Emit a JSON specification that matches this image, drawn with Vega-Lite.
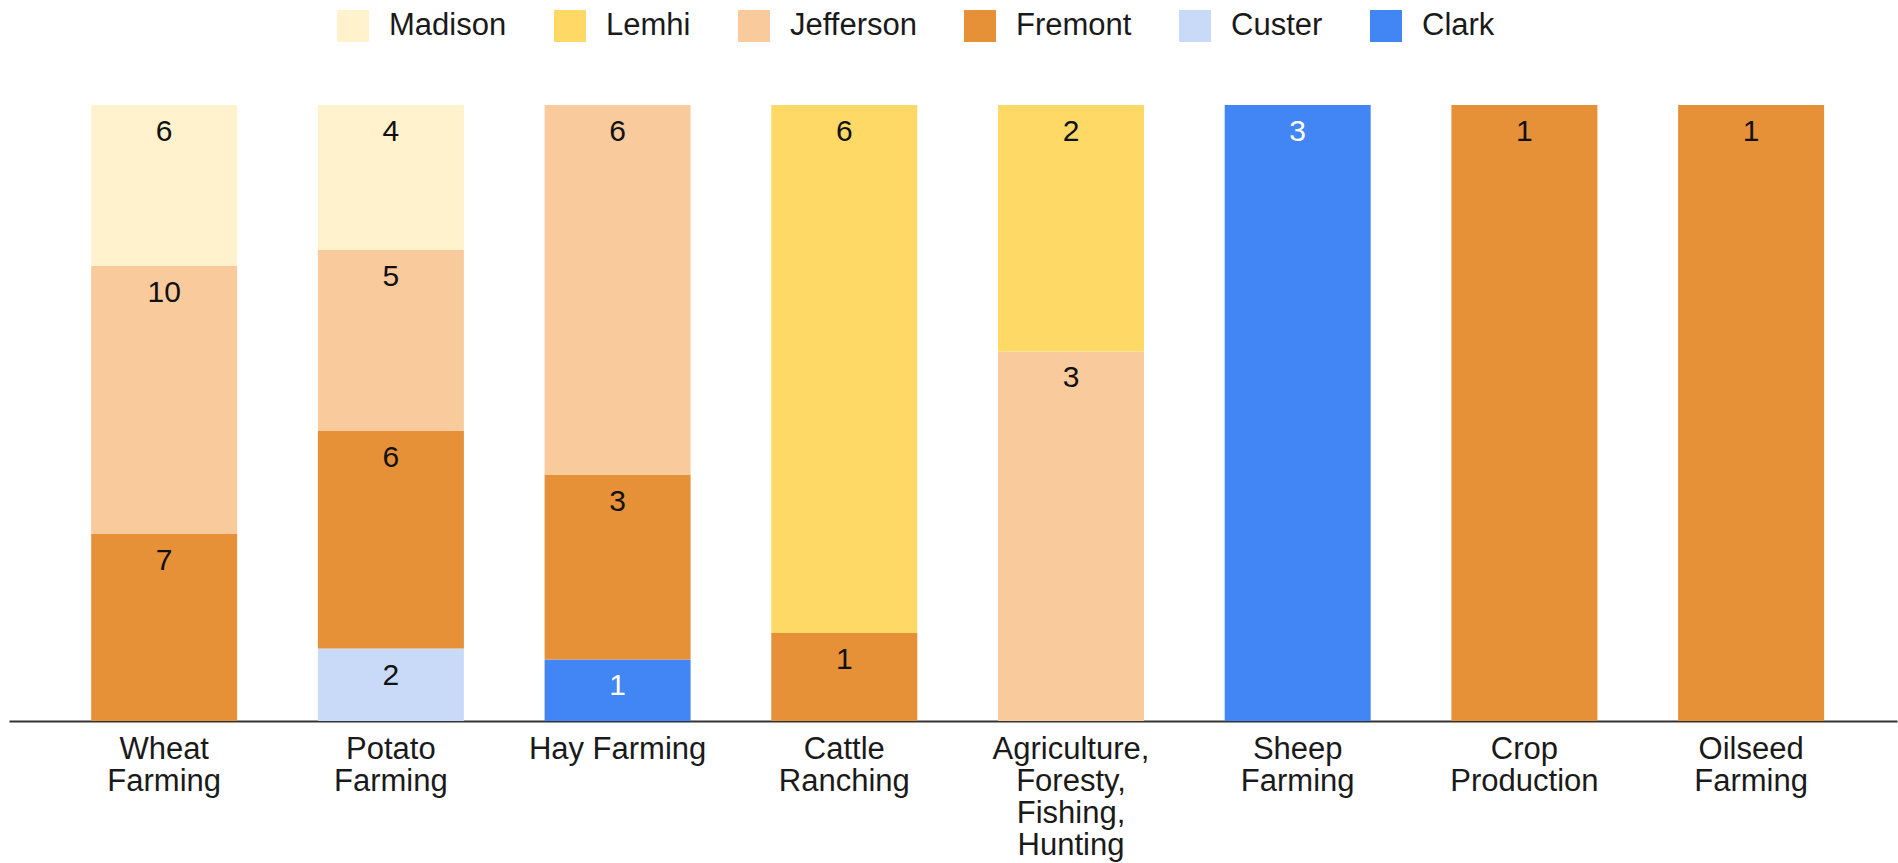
{
  "$schema": "https://vega.github.io/schema/vega-lite/v6.json",
  "autosize": {"type": "none"},
  "width": 1888,
  "height": 616,
  "padding": {"left": 9, "top": 105, "right": 1, "bottom": 142},
  "background": "white",
  "config": {
    "view": {"stroke": null},
    "font": "Liberation Sans"
  },
  "data": {
    "values": [
      {"industry": "Wheat Farming", "county": "Fremont", "count": 7},
      {"industry": "Wheat Farming", "county": "Jefferson", "count": 10},
      {"industry": "Wheat Farming", "county": "Madison", "count": 6},
      {"industry": "Potato Farming", "county": "Custer", "count": 2},
      {"industry": "Potato Farming", "county": "Fremont", "count": 6},
      {"industry": "Potato Farming", "county": "Jefferson", "count": 5},
      {"industry": "Potato Farming", "county": "Madison", "count": 4},
      {"industry": "Hay Farming", "county": "Clark", "count": 1},
      {"industry": "Hay Farming", "county": "Fremont", "count": 3},
      {"industry": "Hay Farming", "county": "Jefferson", "count": 6},
      {"industry": "Cattle Ranching", "county": "Fremont", "count": 1},
      {"industry": "Cattle Ranching", "county": "Lemhi", "count": 6},
      {"industry": "Agriculture, Foresty, Fishing, Hunting", "county": "Jefferson", "count": 3},
      {"industry": "Agriculture, Foresty, Fishing, Hunting", "county": "Lemhi", "count": 2},
      {"industry": "Sheep Farming", "county": "Clark", "count": 3},
      {"industry": "Crop Production", "county": "Fremont", "count": 1},
      {"industry": "Oilseed Farming", "county": "Fremont", "count": 1}
    ]
  },
  "transform": [
    {
      "stack": "count",
      "groupby": ["industry"],
      "sort": [{"field": "county", "order": "ascending"}],
      "offset": "normalize",
      "as": ["y0", "y1"]
    }
  ],
  "encoding": {
    "x": {
      "field": "industry",
      "type": "nominal",
      "sort": ["Wheat Farming", "Potato Farming", "Hay Farming", "Cattle Ranching", "Agriculture, Foresty, Fishing, Hunting", "Sheep Farming", "Crop Production", "Oilseed Farming"],
      "scale": {"paddingInner": 0.356, "paddingOuter": 0.342, "align": 0.53},
      "axis": {
        "title": null,
        "ticks": false,
        "domainColor": "#333333",
        "domainWidth": 2,
        "labelAngle": 0,
        "labelFontSize": 31,
        "labelColor": "#1a1a1a",
        "labelPadding": 13,
        "labelLineHeight": 32,
        "labelExpr": "datum.label == 'Hay Farming' ? datum.label : split(datum.label, ' ')"
      }
    }
  },
  "layer": [
    {
      "mark": {"type": "bar"},
      "encoding": {
        "y": {"field": "y0", "type": "quantitative", "scale": {"domain": [0, 1], "nice": false}, "axis": null},
        "y2": {"field": "y1"},
        "color": {
          "field": "county",
          "type": "nominal",
          "scale": {
            "domain": ["Madison", "Lemhi", "Jefferson", "Fremont", "Custer", "Clark"],
            "range": ["#FFF2CC", "#FFD966", "#F9CB9C", "#E69138", "#C9DAF8", "#4285F4"]
          },
          "legend": {
            "title": null,
            "orient": "none",
            "legendX": 328,
            "legendY": -95,
            "direction": "horizontal",
            "symbolType": "square",
            "symbolSize": 1024,
            "symbolStrokeWidth": 0,
            "symbolOpacity": 1,
            "labelFontSize": 31,
            "labelColor": "#1a1a1a",
            "labelOffset": 20,
            "columnPadding": 47,
            "padding": 0
          }
        }
      }
    },
    {
      "mark": {"type": "text", "fontSize": 30, "baseline": "middle", "align": "center", "dy": 27},
      "encoding": {
        "y": {"field": "y1", "type": "quantitative"},
        "text": {"field": "count", "type": "quantitative"},
        "color": {
          "condition": {"test": "datum.county == 'Clark'", "value": "#ffffff"},
          "value": "#111111"
        }
      }
    }
  ]
}
